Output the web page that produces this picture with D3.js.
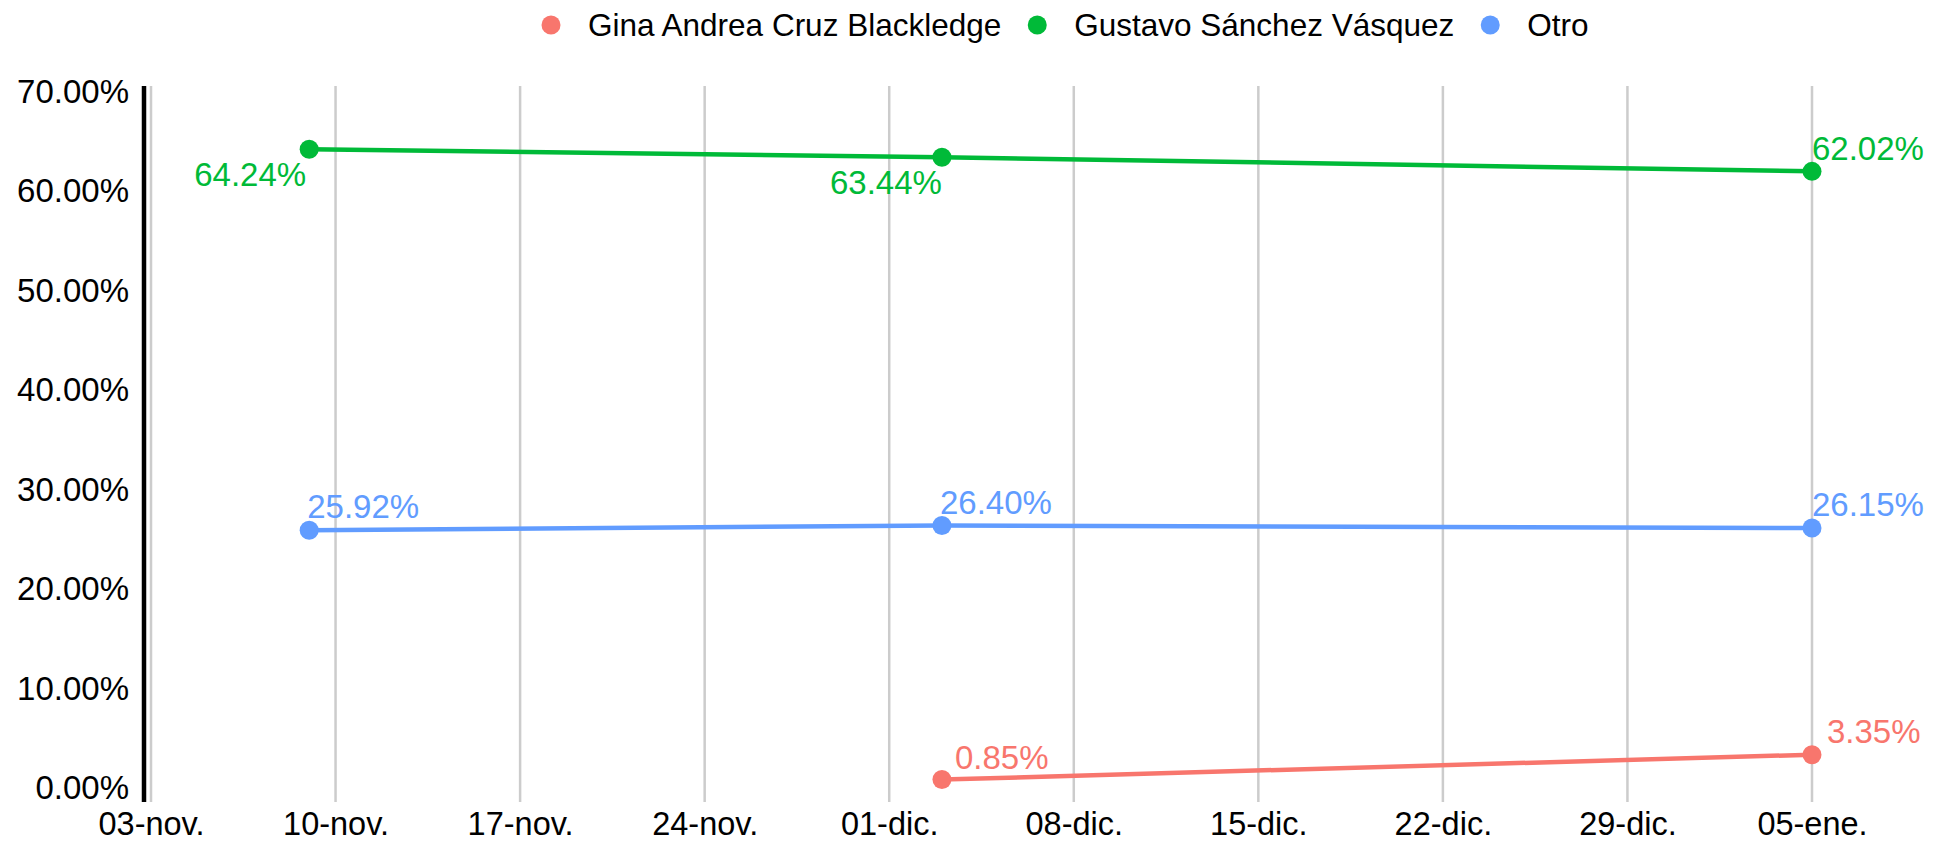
<!DOCTYPE html>
<html>
<head>
<meta charset="utf-8">
<script src="https://cdn.jsdelivr.net/npm/d3@7"></script>
<style>
  body { margin: 0; background: #fff; }
  text { font-family: "Liberation Sans", Arial, sans-serif; }
</style>
</head>
<body>
<div id="chart"></div>
<script>

// DATA
var series = ["Gina Andrea Cruz Blackledge", "Gustavo Sánchez Vásquez", "Otro"]
var colors = ["#F8766D", "#00BA38", "#619CFF"]

var dates = ["2023-11-09", "2023-12-03", "2024-01-05"]
var gina = [null, 0.85, 3.35]
var gustavo = [64.24, 63.44, 62.02]
var otro = [25.92, 26.40, 26.15]

var xTicks = ["2023-11-03", "2023-11-10", "2023-11-17", "2023-11-24", "2023-12-01",
              "2023-12-08", "2023-12-15", "2023-12-22", "2023-12-29", "2024-01-05"]
var xTickLabels = ["03-nov.", "10-nov.", "17-nov.", "24-nov.", "01-dic.",
                   "08-dic.", "15-dic.", "22-dic.", "29-dic.", "05-ene."]
var yTicks = [0, 10, 20, 30, 40, 50, 60, 70]

var W = 1934, H = 843

var svg = d3.select("#chart").append("svg")
    .attr("width", W)
    .attr("height", H)

var parse = d3.timeParse("%Y-%m-%d")

// SCALES
var x = d3.scaleTime()
    .domain([parse(xTicks[0]), parse(xTicks[xTicks.length - 1])])
    .range([151, 1812])

var y = d3.scaleLinear()
    .domain([0, 70])
    .range([788, 92])

var plotTop = 86, plotBottom = 802

// vertical grid lines
svg.append("g")
  .selectAll("line")
  .data(xTicks)
  .enter()
  .append("line")
    .attr("x1", d => x(parse(d)))
    .attr("x2", d => x(parse(d)))
    .attr("y1", plotTop)
    .attr("y2", plotBottom)
    .attr("stroke", "#cccccc")
    .attr("stroke-width", 2.5)

// X AXIS
svg.append("g")
    .attr("transform", "translate(0," + plotBottom + ")")
    .call(d3.axisBottom(x)
      .tickValues(xTicks.map(parse))
      .tickSize(0)
      .tickPadding(10)
      .tickFormat((d, i) => xTickLabels[i]))
    .call(g => g.select(".domain").remove())
    .call(g => g.selectAll(".tick text")
      .attr("fill", "#000")
      .style("font-size", "32.5px")
      .style("font-family", "Liberation Sans, Arial, sans-serif"))

// Y AXIS
svg.append("g")
    .attr("transform", "translate(144,0)")
    .call(d3.axisLeft(y)
      .tickValues(yTicks)
      .tickSize(0)
      .tickPadding(15)
      .tickFormat(d => d.toFixed(2) + "%"))
    .call(g => g.select(".domain").remove())
    .call(g => g.selectAll(".tick text")
      .attr("fill", "#000")
      .style("font-size", "33px")
      .style("font-family", "Liberation Sans, Arial, sans-serif"))

svg.append("line")
    .attr("x1", 144).attr("x2", 144)
    .attr("y1", plotTop).attr("y2", plotBottom)
    .attr("stroke", "#000")
    .attr("stroke-width", 4.5)

// LINES + POINTS
var all = [gina, gustavo, otro]

// label offsets per series / point: [dx, dy, anchor]
var labelPos = [
  [null, [13, -11, "start"], [15, -12, "start"]],
  [[-3, 37, "end"], [0, 37, "end"], [0, -11, "start"]],
  [[-2, -12, "start"], [-2, -12, "start"], [0, -12, "start"]]
]

all.forEach(function(vals, s) {
  var pts = []
  vals.forEach(function(v, i) {
    if (v != null) pts.push({date: parse(dates[i]), v: v, i: i})
  })

  svg.append("path")
    .datum(pts)
    .attr("fill", "none")
    .attr("stroke", colors[s])
    .attr("stroke-width", 4.5)
    .attr("d", d3.line().x(d => x(d.date)).y(d => y(d.v)))

  svg.append("g")
    .selectAll("circle")
    .data(pts)
    .enter()
    .append("circle")
      .attr("cx", d => x(d.date))
      .attr("cy", d => y(d.v))
      .attr("r", 9.5)
      .attr("fill", colors[s])

  svg.append("g")
    .selectAll("text")
    .data(pts)
    .enter()
    .append("text")
      .attr("x", d => x(d.date) + labelPos[s][d.i][0])
      .attr("y", d => y(d.v) + labelPos[s][d.i][1])
      .attr("text-anchor", d => labelPos[s][d.i][2])
      .attr("fill", colors[s])
      .style("font-size", "33px")
      .text(d => d.v.toFixed(2) + "%")
})

// LEGEND
var legend = svg.append("g")
var lx = 551
series.forEach(function(name, i) {
  legend.append("circle")
    .attr("cx", lx)
    .attr("cy", 25)
    .attr("r", 9.5)
    .attr("fill", colors[i])
  var t = legend.append("text")
    .attr("x", lx + 37)
    .attr("y", 25)
    .attr("dy", "0.35em")
    .attr("fill", "#000")
    .style("font-size", "31.5px")
    .text(name)
  lx = lx + 37 + t.node().getComputedTextLength() + 36
})

</script>
</body>
</html>
